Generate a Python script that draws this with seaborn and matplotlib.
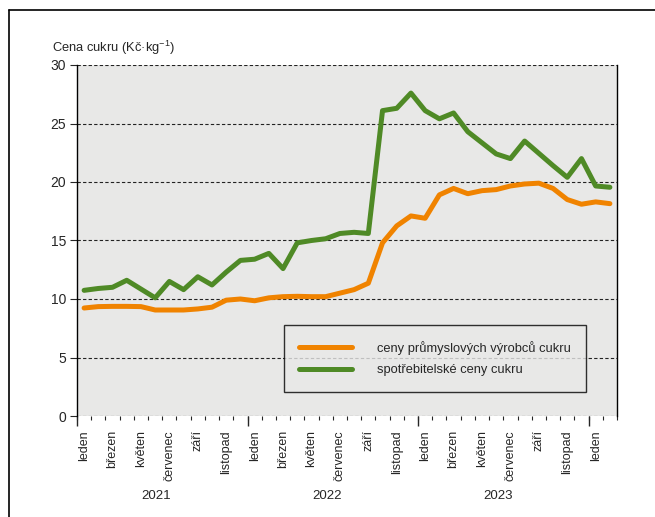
import numpy as np
import pandas as pd
import matplotlib
matplotlib.use('Agg')
import matplotlib.pyplot as plt
import seaborn as sns
from matplotlib.lines import Line2D

# monthly prices, leden 2021 .. únor 2024
months = pd.date_range('2021-01-01', '2024-02-01', freq='MS')
vyrobci = [9.23, 9.35, 9.37, 9.37, 9.35, 9.06, 9.06, 9.06, 9.15, 9.3,
           9.9, 10.0, 9.85, 10.1, 10.2, 10.23, 10.2, 10.2, 10.5, 10.8,
           11.35, 14.8, 16.25, 17.1, 16.9, 18.9, 19.45, 19.0, 19.26, 19.35,
           19.66, 19.83, 19.9, 19.45, 18.5, 18.1, 18.3, 18.15]
spotrebitele = [10.74, 10.9, 11.0, 11.6, 10.85, 10.1, 11.5, 10.8, 11.9, 11.2,
                12.3, 13.3, 13.4, 13.9, 12.6, 14.8, 15.0, 15.15, 15.6, 15.7,
                15.6, 26.1, 26.3, 27.6, 26.1, 25.4, 25.9, 24.3, 23.35, 22.4,
                22.0, 23.5, 22.45, 21.4, 20.4, 22.0, 19.66, 19.55]
month_names = ['leden', 'březen', 'květen', 'červenec', 'září', 'listopad']
years = ['2021', '2022', '2023']
labels = ['ceny průmyslových výrobců cukru', 'spotřebitelské ceny cukru']
colors = ['#f08300', '#4f8a26']

sns.set_style('white')
plt.rcParams['font.family'] = ['Liberation Sans', 'DejaVu Sans']
plt.rcParams['mathtext.fontset'] = 'custom'
plt.rcParams['mathtext.rm'] = 'Liberation Sans'

df = pd.DataFrame({'x': np.arange(len(months)) + 0.5,
                   labels[0]: vyrobci, labels[1]: spotrebitele})
long = df.melt(id_vars='x', var_name='serie', value_name='cena')

fig = plt.figure(figsize=(6.55, 5.17), dpi=100)
ax = fig.add_axes([77 / 655, 1 - 416 / 517, 540 / 655, 351 / 517])
ax.set_facecolor('#e8e8e7')

sns.lineplot(data=long, x='x', y='cena', hue='serie', palette=colors,
             linewidth=3.6, ax=ax, legend=False)

ax.set_xlim(0, len(months))
ax.set_ylim(0, 30)
ax.set_yticks(np.arange(0, 31, 5))
ax.grid(axis='y', color='#222222', linestyle=(0, (3, 2)), linewidth=0.8)
ax.set_axisbelow(True)
for s in ['top', 'bottom']:
    ax.spines[s].set_visible(False)
for s in ['left', 'right']:
    ax.spines[s].set_color('black')
    ax.spines[s].set_linewidth(1.0)
ax.tick_params(axis='y', length=5, width=0.8, pad=3, labelsize=10, left=True)

# month labels every second month, ticks on month boundaries
ax.set_xticks(np.arange(0, len(months), 2) + 0.5)
ax.set_xticklabels([month_names[(i // 2) % 6] for i in range(0, len(months), 2)],
                   rotation=90, va='top', ha='center', fontsize=9)
ax.tick_params(axis='x', which='major', length=0, pad=10)
ax.set_xticks(np.arange(0, len(months) + 1), minor=True)
ax.tick_params(axis='x', which='minor', length=3, width=0.8, bottom=True)
sec = ax.secondary_xaxis('bottom')
sec.set_xticks([0, 12, 24, 36])
sec.set_xticklabels([])
sec.tick_params(length=7, width=1.0)
sec.spines['bottom'].set_visible(False)

ax.set_xlabel('')
ax.set_ylabel('')

for k, y in enumerate(years):
    ax.text(k * 12 + 5.6, -0.228, y, transform=ax.get_xaxis_transform(),
            ha='center', va='center', fontsize=9.5)

ax.text(-0.047, 1.05, 'Cena cukru (Kč·kg$^{-1}$)', transform=ax.transAxes,
        ha='left', va='center', fontsize=9.3)

handles = [Line2D([0], [0], color=c, lw=3.6) for c in colors]
leg = ax.legend(handles, labels, loc='lower left', bbox_to_anchor=(0.383, 0.069),
                fontsize=9.3, frameon=True, fancybox=False, handlelength=4.1,
                handletextpad=1.9, borderpad=1.2, labelspacing=0.75,
                borderaxespad=0)
leg.get_frame().set_edgecolor('black')
leg.get_frame().set_facecolor('#e8e8e7')
leg.get_frame().set_linewidth(1.0)

# outer frame
fig.add_artist(Line2D([9 / 655, 1], [1 - 10 / 517, 1 - 10 / 517], color='black', lw=1.2))
fig.add_artist(Line2D([9 / 655, 9 / 655], [0, 1 - 10 / 517], color='black', lw=1.2))

fig.savefig('out.png', dpi=100)
